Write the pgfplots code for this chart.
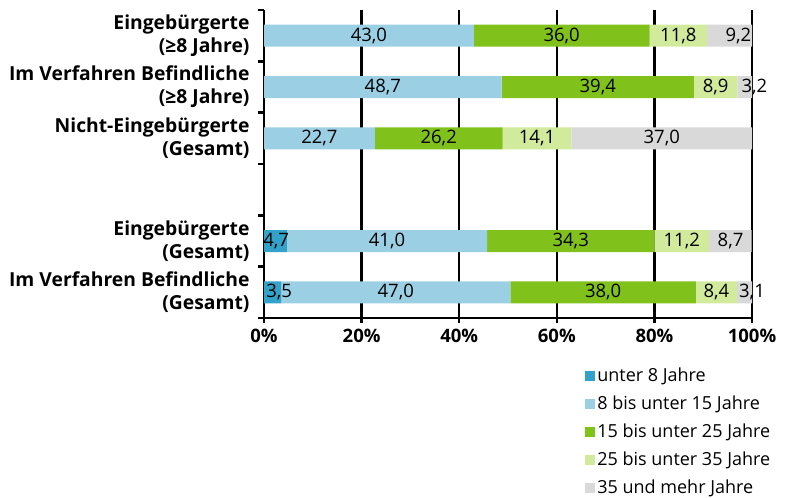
\documentclass[border=0pt]{standalone}
\usepackage{fontspec}
\setmainfont{Open Sans}
\usepackage{pgfplots}
\pgfplotsset{compat=1.18}
\usepackage{pgfplotstable}

\definecolor{cA}{HTML}{33A2C9}
\definecolor{cB}{HTML}{9BD0E4}
\definecolor{cC}{HTML}{80C11C}
\definecolor{cD}{HTML}{D1EA9C}
\definecolor{cE}{HTML}{D9D9D9}

% y positions: 6,5,4 upper group; 3 empty; 2,1 lower group
% la, le: positions of the value labels of the first and last segment (as placed in the original)
\pgfplotstableread{
y  a    b    c    d    e     la   le
6  0    43.0 36.0 11.8 9.2   0    97.2
5  0    48.7 39.4 8.9  3.2   0    100.5
4  0    22.7 26.2 14.1 37.0  0    81.5
2  4.7  41.0 34.3 11.2 8.7   2.5  95.6
1  3.5  47.0 38.0 8.4  3.1   3.1  100.0
}\data

\pgfplotsset{
  seg/.style={fill=#1, draw=none,
    legend image code/.code={\path[fill=#1,draw=none] (0bp,-4bp) rectangle (10bp,6bp);}},
  lab/.style={draw=none, mark=none, only marks, forget plot, point meta=explicit,
    nodes near coords={\pgfmathfloatifflags{\pgfplotspointmeta}{0}{}{\pgfmathprintnumber[fixed,fixed zerofill,precision=1,use comma,assume math mode=true]{\pgfplotspointmeta}}},
    every node near coord/.append style={font=\fontsize{18.5bp}{20bp}\selectfont, text=black, anchor=center, inner sep=0pt}},
}

\begin{document}
\begin{tikzpicture}
\begin{axis}[
  at={(264bp,180bp)}, anchor=south west,
  scale only axis, width=488bp, height=308bp,
  xbar stacked, bar width=22bp,
  xmin=0, xmax=100, ymin=0.5, ymax=6.5,
  axis x line*=bottom, axis y line*=left,
  axis line style={-, line width=2.8bp, black},
  xtick={0,20,40,60,80,100},
  xticklabels={0\%,20\%,40\%,60\%,80\%,100\%},
  xticklabel style={font=\fontsize{18.5bp}{20bp}\selectfont\bfseries, yshift=-3bp},
  xmajorgrids, major grid style={black, line width=2.3bp},
  every major x tick/.style={black, line width=2.3bp},
  every major y tick/.style={draw=none},
  every minor y tick/.style={black, line width=2.5bp},
  tick align=outside, major tick length=5bp, minor tick length=6bp,
  ytick={1,2,4,5,6},
  minor ytick={0.5,1.5,2.5,3.5,4.5,5.5,6.5},
  yticklabels={{Im Verfahren Befindliche\\(Gesamt)},{Eingebürgerte\\(Gesamt)},{Nicht-Eingebürgerte\\(Gesamt)},{Im Verfahren Befindliche\\(≥8 Jahre)},{Eingebürgerte\\(≥8 Jahre)}},
  yticklabel style={font=\fontsize{19.3bp}{23bp}\selectfont\bfseries, align=right, xshift=-6bp},
  legend style={at={(0.658,-0.164)}, anchor=north west, draw=none, fill=none,
    inner sep=0pt, row sep=11bp, font=\fontsize{18bp}{20bp}\selectfont,
    nodes={inner xsep=2bp, inner ysep=0pt, text height=13bp, text depth=4bp}},
  legend cell align=left,
]
\addplot[seg=cA] table[x=a, y=y] {\data};
\addplot[seg=cB] table[x=b, y=y] {\data};
\addplot[seg=cC] table[x=c, y=y] {\data};
\addplot[seg=cD] table[x=d, y=y] {\data};
\addplot[seg=cE] table[x=e, y=y] {\data};
\legend{unter 8 Jahre, 8 bis unter 15 Jahre, 15 bis unter 25 Jahre, 25 bis unter 35 Jahre, 35 und mehr Jahre}
\end{axis}
% value labels, centred in each segment
\begin{axis}[
  at={(264bp,180bp)}, anchor=south west,
  scale only axis, width=488bp, height=308bp,
  xmin=0, xmax=100, ymin=0.5, ymax=6.5, hide axis, clip=false,
]
\addplot[lab] table[x=la, y=y, meta=a] {\data};
\addplot[lab] table[x expr=\thisrow{a}+\thisrow{b}/2, y=y, meta=b] {\data};
\addplot[lab] table[x expr=\thisrow{a}+\thisrow{b}+\thisrow{c}/2, y=y, meta=c] {\data};
\addplot[lab] table[x expr=\thisrow{a}+\thisrow{b}+\thisrow{c}+\thisrow{d}/2, y=y, meta=d] {\data};
\addplot[lab] table[x=le, y=y, meta=e] {\data};
\end{axis}
\pgfresetboundingbox
\path (0bp,0bp) rectangle (785bp,498bp);
\end{tikzpicture}
\end{document}
